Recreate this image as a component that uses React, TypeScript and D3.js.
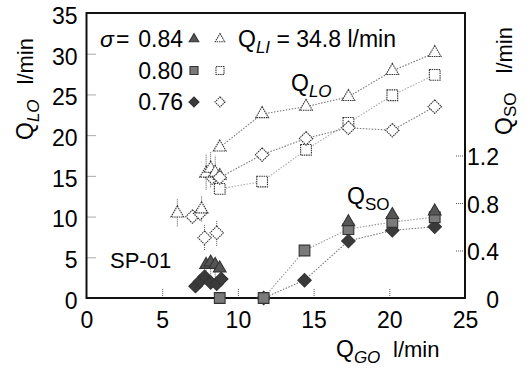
import { useEffect, useRef } from 'react';
import * as d3 from 'd3';

// Q_GO (l/min) of the main runs
const qgo = [8.8, 11.6, 14.5, 17.3, 20.2, 23.0];
// Q_LO (l/min), open markers
const qloTri = [18.5, 22.6, 23.5, 24.7, 27.9, 30.1];
const qloSq = [13.4, 14.3, 18.2, 21.5, 24.9, 27.4];
const qloDia = [14.8, 17.6, 19.6, 20.9, 20.6, 23.5];

// Q_SO (l/min, right axis), filled markers
const qgoSo = [11.7, 14.4, 17.3, 20.2, 23.0];
const qsoTri = [null, null, 0.64, 0.70, 0.73];
const qsoSq = [0, 0.40, 0.58, 0.64, 0.68];
const qsoDia = [0, 0.15, 0.48, 0.57, 0.60];

// low-flow scatter near breakdown
const lowTriOpen: [number, number][] = [[6.0, 10.4], [7.6, 10.9], [7.9, 15.3], [8.2, 15.9], [8.5, 15.4], [8.8, 15.0]];
const lowDiaOpen: [number, number][] = [[7.0, 10.0], [7.5, 10.4], [7.8, 7.4], [8.6, 8.0], [8.3, 14.8]];
const lowTriFill: [number, number][] = [[7.9, 0.28], [8.2, 0.30], [8.5, 0.28], [8.8, 0.25]];
const lowDiaFill: [number, number][] = [[7.2, 0.10], [7.5, 0.14], [7.8, 0.18], [8.2, 0.13], [8.6, 0.12], [8.9, 0.16]];
const lowSqFill: [number, number][] = [[8.8, 0]];
// whiskers [x, low, high] in Q_LO units
const whiskers: [number, number, number][] = [
  [6.0, 8.8, 12.2], [7.6, 9.4, 12.6], [7.9, 13.3, 17.6], [8.2, 13.6, 18.0], [8.5, 13.3, 17.5],
  [7.8, 5.9, 9.0], [8.6, 6.4, 9.6], [7.9, 1.8, 4.9], [8.2, 2.0, 5.1], [8.5, 1.8, 4.9],
];

const xTicks = [0, 5, 10, 15, 20, 25];
const yTicks = [0, 5, 10, 15, 20, 25, 30, 35];
const y2Ticks = [0, 0.4, 0.8, 1.2];
const legendRows = [
  { label: '0.84', shape: 'tri' },
  { label: '0.80', shape: 'sq' },
  { label: '0.76', shape: 'dia' },
];

const FONT = '"Liberation Sans", Arial, sans-serif';

export default function App() {
  const svgRef = useRef<SVGSVGElement>(null);

  useEffect(() => {
    if (!svgRef.current) return;
    const svg = d3.select(svgRef.current);
    svg.selectAll('*').remove();

    const L = 86.5, R = 465, T = 13, B = 298;
    const x = d3.scaleLinear().domain([0, 25]).range([L, R]);
    const y = d3.scaleLinear().domain([0, 35]).range([B, T]);
    const y2 = d3.scaleLinear().domain([0, 2.4]).range([B, T]);

    const g = svg.append('g').style('font-family', FONT);

    // axes with inward dotted ticks
    const styleAxis = (sel: any) => {
      sel.select('.domain').remove();
      sel.selectAll('.tick line').attr('stroke', '#555').attr('stroke-dasharray', '1,1');
      sel.selectAll('.tick text').attr('fill', '#000').style('font-size', '23px').style('font-family', FONT);
    };
    g.append('g').attr('transform', `translate(${L},0)`)
      .call(d3.axisLeft(y).tickValues(yTicks).tickSize(-10).tickPadding(9).tickFormat(d3.format('d')))
      .call(styleAxis)
      .call((s: any) => s.selectAll('.tick text').attr('dy', '0.45em'))
      .call((s: any) => s.selectAll('.tick line').filter((d: number) => d === 0 || d === 35).remove());
    g.append('g').attr('transform', `translate(0,${B})`)
      .call(d3.axisBottom(x).tickValues(xTicks).tickSize(-10).tickPadding(14).tickFormat(d3.format('d')))
      .call(styleAxis)
      .call((s: any) => s.selectAll('.tick line').filter((d: number) => d === 0 || d === 25).remove());
    g.append('g').attr('transform', `translate(${R},0)`)
      .call(d3.axisRight(y2).tickValues(y2Ticks).tickSize(-10).tickPadding(8).tickFormat((d: any) => (d === 0 ? '0' : d3.format('.1f')(d))))
      .call(styleAxis)
      .call((s: any) => s.selectAll('.tick text').attr('text-anchor', 'end').attr('x', 34).attr('dy', '0.4em'))
      .call((s: any) => s.selectAll('.tick line').filter((d: number) => d === 0).remove());

    // frame
    g.append('rect').attr('x', L).attr('y', T).attr('width', R - L).attr('height', B - T)
      .attr('fill', 'none').attr('stroke', '#111').attr('stroke-width', 2);

    const dotted = (pts: [number, number][], col = '#888') => {
      g.append('path').attr('d', d3.line()(pts)).attr('fill', 'none')
        .attr('stroke', col).attr('stroke-width', 1.1).attr('stroke-dasharray', '1.5,1.5');
    };
    const loPts = (vals: number[]) => vals.map((v, i) => [x(qgo[i]), y(v)] as [number, number]);
    const soPts = (vals: (number | null)[]) =>
      vals.map((v, i) => (v == null ? null : [x(qgoSo[i]), y2(v)] as [number, number])).filter(Boolean) as [number, number][];

    dotted(loPts(qloTri), '#777');
    dotted(loPts(qloSq), '#aaa');
    dotted(loPts(qloDia), '#777');
    dotted(soPts(qsoSq), '#999');
    dotted(soPts(qsoDia), '#777');

    // whiskers
    whiskers.forEach(([wx, lo, hi]) => {
      g.append('line').attr('x1', x(wx)).attr('x2', x(wx)).attr('y1', y(lo)).attr('y2', y(hi))
        .attr('stroke', '#555').attr('stroke-dasharray', '1,1');
    });

    const sym = {
      tri: d3.symbol().type(d3.symbolTriangle),
      sq: d3.symbol().type(d3.symbolSquare),
      dia: d3.symbol().type(d3.symbolSquare),
    };
    const marker = (shape: 'tri' | 'sq' | 'dia', px: number, py: number, filled: boolean, scale = 1) => {
      const size = shape === 'tri' ? 70 : shape === 'sq' ? 115 : 90;
      g.append('path')
        .attr('d', sym[shape].size(size * scale * scale)())
        .attr('transform', `translate(${px},${py})${shape === 'dia' ? ' rotate(45)' : ''}`)
        .attr('fill', filled ? (shape === 'sq' ? '#7a7a7a' : shape === 'tri' ? '#555' : '#3a3a3a') : '#fff')
        .attr('stroke', filled ? '#333' : '#333')
        .attr('stroke-width', 1.1)
        .attr('stroke-dasharray', filled ? null : '1.5,0.8');
    };

    // open Q_LO markers
    lowDiaOpen.forEach(([a, b]) => marker('dia', x(a), y(b), false));
    lowTriOpen.forEach(([a, b]) => marker('tri', x(a), y(b), false));
    loPts(qloSq).forEach(([a, b]) => marker('sq', a, b, false));
    loPts(qloDia).forEach(([a, b]) => marker('dia', a, b, false));
    loPts(qloTri).forEach(([a, b]) => marker('tri', a, b, false));

    // filled Q_SO markers
    lowDiaFill.forEach(([a, b]) => marker('dia', x(a), y2(b), true));
    lowTriFill.forEach(([a, b]) => marker('tri', x(a), y2(b), true));
    lowSqFill.forEach(([a, b]) => marker('sq', x(a), y2(b), true));
    soPts(qsoDia).forEach(([a, b]) => marker('dia', a, b, true));
    soPts(qsoSq).forEach(([a, b]) => marker('sq', a, b, true));
    soPts(qsoTri).forEach(([a, b]) => marker('tri', a, b, true));

    // legend
    const lg = g.append('g').style('font-size', '23px');
    lg.append('text').attr('x', 100).attr('y', 47).style('font-style', 'italic').text('σ');
    lg.append('text').attr('x', 116).attr('y', 47).text('=');
    legendRows.forEach((r, i) => {
      const by = 47 + i * 31.5;
      lg.append('text').attr('x', 183).attr('y', by).attr('text-anchor', 'end').text(r.label);
      marker(r.shape as any, 194, by - 8, true, 0.75);
      marker(r.shape as any, 220, by - 8, false, 0.75);
    });
    const qli = lg.append('text').attr('x', 238).attr('y', 47);
    qli.append('tspan').text('Q');
    qli.append('tspan').attr('dy', 6).style('font-size', '17px').style('font-style', 'italic').text('LI');
    qli.append('tspan').attr('dy', -6).text(' = 34.8 l/min');

    // curve labels
    const sub = (px: number, py: number, main: string, s: string, italic = true) => {
      const t = g.append('text').attr('x', px).attr('y', py).style('font-size', '23px');
      t.append('tspan').text(main);
      t.append('tspan').attr('dy', 6).style('font-size', '17px').style('font-style', italic ? 'italic' : 'normal').text(s);
      return t;
    };
    sub(291, 91, 'Q', 'LO');
    sub(347, 204, 'Q', 'SO', false);
    g.append('text').attr('x', 110).attr('y', 268).style('font-size', '22px').text('SP-01');

    // axis titles
    sub(336, 357, 'Q', 'GO');
    g.append('text').attr('x', 393).attr('y', 357).style('font-size', '22px').text('l/min');

    const yl = g.append('g').attr('transform', 'translate(33,0) rotate(-90)');
    const ylq = yl.append('text').attr('x', -140).attr('y', 0).style('font-size', '23px');
    ylq.append('tspan').text('Q');
    ylq.append('tspan').attr('dy', 6).style('font-size', '17px').style('font-style', 'italic').text('LO');
    yl.append('text').attr('x', -38).attr('y', 0).attr('text-anchor', 'end').style('font-size', '22px').text('l/min');

    const yr = g.append('g').attr('transform', 'translate(512,0) rotate(-90)');
    const yrq = yr.append('text').attr('x', -135).attr('y', 0).style('font-size', '23px');
    yrq.append('tspan').text('Q');
    yrq.append('tspan').attr('dy', 4).style('font-size', '17px').text('SO');
    yr.append('text').attr('x', -27).attr('y', 0).attr('text-anchor', 'end').style('font-size', '22px').text('l/min');
  }, []);

  return (
    <svg ref={svgRef} width={530} height={371}
      style={{ position: 'absolute', left: 0, top: 0, background: '#fff', display: 'block' }} />
  );
}
